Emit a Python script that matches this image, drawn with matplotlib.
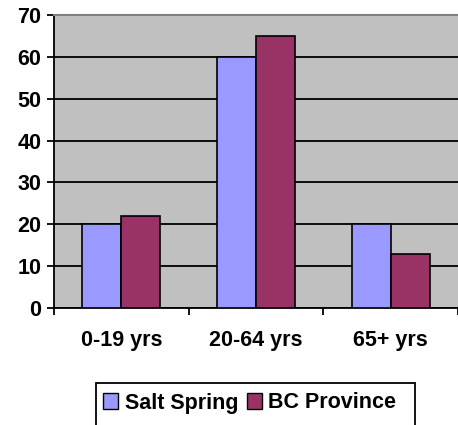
import matplotlib
matplotlib.use("Agg")
import matplotlib.pyplot as plt
import matplotlib.patches as mpatches
import numpy as np

plt.rcParams['font.family'] = ['Liberation Sans', 'DejaVu Sans']
plt.rcParams['font.weight'] = 'bold'

categories = ["0-19 yrs", "20-64 yrs", "65+ yrs"]
salt_spring = [20, 60, 20]
bc_province = [22, 65, 13]
series_names = ["Salt Spring", "BC Province"]
yticks = [0, 10, 20, 30, 40, 50, 60, 70]

FS = 15.5
W, H = 458, 425
fig = plt.figure(figsize=(W / 100, H / 100), dpi=100)
ax = fig.add_axes([54 / W, (H - 308) / H, (458 - 54) / W, (308 - 15) / H])
ax.set_facecolor('#C0C0C0')

x = np.arange(len(categories))
bw = 0.29
ax.bar(x - bw / 2, salt_spring, bw, color='#9999FF', edgecolor='black', linewidth=1.2, zorder=3)
ax.bar(x + bw / 2, bc_province, bw, color='#993366', edgecolor='black', linewidth=1.2, zorder=3)

ax.set_xlim(-0.5, 2.5)
ax.set_ylim(0, 70)
ax.set_yticks(yticks)
ax.set_yticklabels([str(v) for v in yticks], fontsize=FS, fontweight='bold')
ax.yaxis.grid(True, color='black', linewidth=1.3, zorder=1)
ax.set_axisbelow(True)

ax.set_xticks([-0.5, 0.5, 1.5, 2.5])
ax.set_xticklabels([])
ax.set_xticks(x, minor=True)
ax.set_xticklabels(categories, minor=True, fontsize=FS, fontweight='bold')
ax.tick_params(axis='x', which='minor', length=0, pad=16)
ax.tick_params(axis='x', which='major', length=5, width=1.3, direction='out')
ax.tick_params(axis='y', length=5, width=1.3, direction='out', pad=4)

ax.spines['top'].set_color('#808080')
ax.spines['top'].set_linewidth(1.5)
ax.spines['right'].set_visible(False)
ax.spines['left'].set_linewidth(1.3)
ax.spines['bottom'].set_linewidth(1.3)

# legend box (extends below figure edge)
rect = mpatches.Rectangle((96 / W, -0.05), (415 - 96) / W, (H - 383) / H + 0.05,
                          transform=fig.transFigure, facecolor='white', edgecolor='black',
                          linewidth=1.3, clip_on=False)
fig.patches.append(rect)
handles = [mpatches.Patch(facecolor='#9999FF', edgecolor='black', linewidth=1.0),
           mpatches.Patch(facecolor='#993366', edgecolor='black', linewidth=1.0)]
fig.legend(handles, series_names, loc='center left', bbox_to_anchor=(103 / W, (H - 403) / H),
           ncol=2, frameon=False, prop={'weight': 'bold', 'size': FS},
           handlelength=0.7, handleheight=0.7, handletextpad=0.3, columnspacing=0.4,
           borderpad=0, borderaxespad=0)

fig.savefig('out.png', dpi=100)
